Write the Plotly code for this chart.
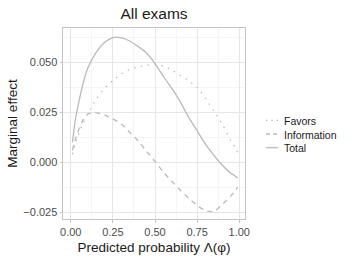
import plotly.graph_objects as go

x_vals = [0.01, 0.025, 0.05, 0.075, 0.1, 0.15, 0.2, 0.25, 0.3, 0.35, 0.4, 0.45,
          0.5, 0.55, 0.6, 0.65, 0.7, 0.75, 0.8, 0.85, 0.9, 0.95, 0.975, 0.99]

favors = [0.004, 0.009, 0.015, 0.020, 0.024, 0.0315, 0.037, 0.041, 0.0443, 0.0465,
          0.0478, 0.0486, 0.0489, 0.0482, 0.0462, 0.0435, 0.0408, 0.0375, 0.032,
          0.0255, 0.019, 0.0108, 0.0075, 0.005]

information = [0.006, 0.011, 0.017, 0.0215, 0.0242, 0.0248, 0.0238, 0.0218, 0.0192,
               0.015, 0.0108, 0.0055, 0.0005, -0.005, -0.0095, -0.014, -0.018,
               -0.0215, -0.0243, -0.0246, -0.021, -0.0168, -0.0145, -0.0125]

total = [0.010, 0.020, 0.031, 0.040, 0.047, 0.055, 0.060, 0.0625, 0.0624, 0.0608,
         0.058, 0.0548, 0.0495, 0.043, 0.037, 0.0303, 0.0225, 0.0158, 0.009,
         0.0035, -0.0015, -0.0055, -0.0068, -0.0078]

series_names = ["Favors", "Information", "Total"]
series_values = [favors, information, total]

x_ticks = [0.0, 0.25, 0.5, 0.75, 1.0]
x_tick_labels = ["0.00", "0.25", "0.50", "0.75", "1.00"]
y_ticks = [-0.025, 0.0, 0.025, 0.05]
y_tick_labels = ["\u22120.025", "0.000", "0.025", "0.050"]

FONT = "Liberation Sans, Arial, sans-serif"
LINE_COLOR = "#bababa"
DASHES = ["1.4px,5.5px", "5px,4.5px", "solid"]
KEY_DASHES = ["1.4px,4px", "4px,3px", "solid"]

W, H = 352, 264
ML, MR, MT, MB = 63, 107, 28, 45

fig = go.Figure()
for name, vals, dash in zip(series_names, series_values, DASHES):
    fig.add_trace(go.Scatter(
        x=x_vals, y=vals, mode="lines", name=name, showlegend=False,
        line=dict(color=LINE_COLOR, width=1.3, dash=dash, shape="spline", smoothing=0.6),
    ))

# Compact ggplot-style legend (keys + labels) to the right of the panel
pw = W - ML - MR
ph = H - MT - MB
def px_to_paper_x(px):
    return (px - ML) / pw
def px_to_paper_y(py):
    return (H - MB - py) / ph

LEG_FONT = 10.5
LEG_CENTER = 134.0
row_gap = 1.3 * LEG_FONT
legend_rows = [LEG_CENTER - row_gap, LEG_CENTER, LEG_CENTER + row_gap]
for kd, row in zip(KEY_DASHES, legend_rows):
    fig.add_shape(type="line", xref="paper", yref="paper",
                  x0=px_to_paper_x(266), x1=px_to_paper_x(278),
                  y0=px_to_paper_y(row), y1=px_to_paper_y(row),
                  line=dict(color=LINE_COLOR, width=1.3, dash=kd))
fig.add_annotation(text="<br>".join(series_names), xref="paper", yref="paper",
                   x=px_to_paper_x(282), y=px_to_paper_y(LEG_CENTER + 0.5),
                   xanchor="left", yanchor="middle", align="left", showarrow=False,
                   font=dict(size=LEG_FONT, color="#1a1a1a", family=FONT))

fig.update_layout(
    width=W, height=H,
    margin=dict(l=ML, r=MR, t=MT, b=MB),
    paper_bgcolor="white", plot_bgcolor="white",
    font=dict(family=FONT, color="#1a1a1a"),
    title=dict(text="All exams", x=0.5, xref="paper", xanchor="center",
               y=1 - 13.5 / H, yref="container", yanchor="middle",
               font=dict(size=15.5, color="#1a1a1a", family=FONT)),
    showlegend=False,
    hovermode=False,
)

fig.update_xaxes(
    range=[-0.046, 1.034], tickvals=x_ticks, ticktext=x_tick_labels,
    tickfont=dict(size=11, color="#4d4d4d"),
    showgrid=True, gridcolor="#e6e6e6", gridwidth=1,
    minor=dict(dtick=0.125, tick0=0.125, showgrid=True, gridcolor="#efefef", gridwidth=0.6),
    showline=True, linecolor="#c4c4c4", linewidth=1, mirror=True,
    ticks="outside", ticklen=2.5, tickcolor="#c4c4c4",
    zeroline=False, automargin=False,
    title=dict(text="Predicted probability \u039b(\u03c6)", font=dict(size=13.5, color="#1a1a1a"), standoff=5),
)
fig.update_yaxes(
    range=[-0.0284, 0.0673], tickvals=y_ticks, ticktext=y_tick_labels,
    tickfont=dict(size=11, color="#4d4d4d"),
    showgrid=True, gridcolor="#e6e6e6", gridwidth=1,
    minor=dict(dtick=0.025, tick0=0.0125, showgrid=True, gridcolor="#efefef", gridwidth=0.6),
    showline=True, linecolor="#c4c4c4", linewidth=1, mirror=True,
    ticks="outside", ticklen=2.5, tickcolor="#c4c4c4",
    zeroline=False, automargin=False,
    title=dict(text="Marginal effect", font=dict(size=13.5, color="#1a1a1a"), standoff=2),
)

fig.write_html("out.html", config={"displayModeBar": False, "staticPlot": True},
               post_script="document.body.style.margin='0';document.body.style.padding='0';")
